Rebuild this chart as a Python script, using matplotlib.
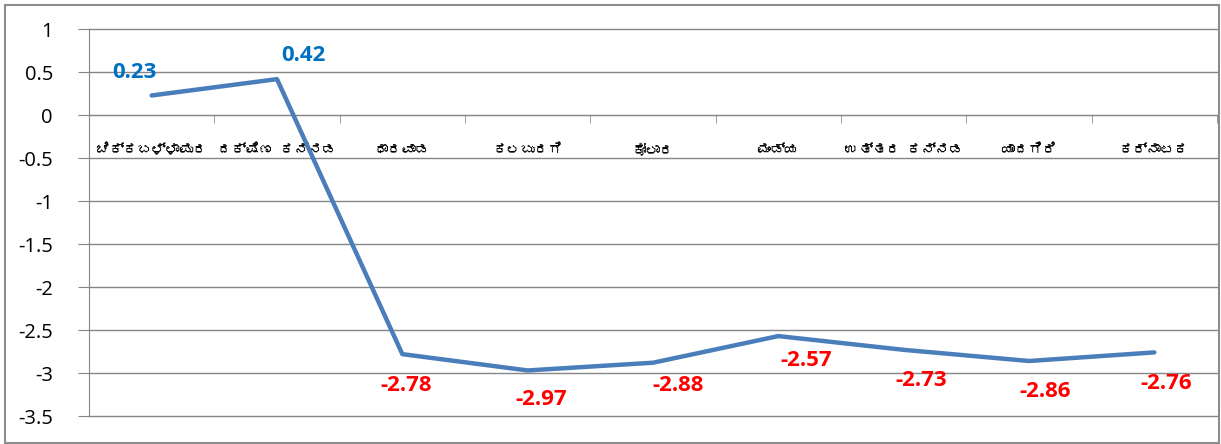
import matplotlib
matplotlib.use('Agg')
import matplotlib.pyplot as plt
import matplotlib.patheffects as pe
from matplotlib import font_manager
from matplotlib.ft2font import FT2Font
from matplotlib.patches import Rectangle

districts = ['ಚಿಕ್ಕಬಳ್ಳಾಪುರ', 'ದಕ್ಷಿಣ  ಕನ್ನಡ', 'ಧಾರವಾಡ', 'ಕಲಬುರಗಿ', 'ಕೋಲಾರ',
             'ಮಂಡ್ಯ', 'ಉತ್ತರ  ಕನ್ನಡ', 'ಯಾದಗಿರಿ', 'ಕರ್ನಾಟಕ']
values = [0.23, 0.42, -2.78, -2.97, -2.88, -2.57, -2.73, -2.86, -2.76]
y_ticks = [1, 0.5, 0, -0.5, -1, -1.5, -2, -2.5, -3, -3.5]

# label offsets in pixels (dx, dy) from each point
label_offsets = [(-17, 23), (26, 24), (4, -31), (14, -29), (25, -23),
                 (28, -24), (18, -31), (16, -30), (12, -31)]


def kannada_font():
    # look for any installed font that has Kannada glyphs
    for fe in font_manager.fontManager.ttflist:
        try:
            if 0x0C95 in FT2Font(fe.fname).get_charmap():
                return fe.name
        except Exception:
            pass
    return None


kn = kannada_font()
families = ['Open Sans', 'DejaVu Sans']
if kn:
    families.append(kn)
plt.rcParams['font.family'] = families

fig = plt.figure(figsize=(12.21, 4.44), dpi=100)
ax = fig.add_axes([89 / 1221, 1 - 416 / 444, (1217 - 89) / 1221, (416 - 29.3) / 444])

x = list(range(1, len(values) + 1))
ax.plot(x, values, color='#4A7EBB', lw=3.2, solid_capstyle='round', zorder=3)

for xi, v, (dx, dy) in zip(x, values, label_offsets):
    ax.annotate(f'{v:.2f}', (xi, v), xytext=(dx, dy), textcoords='offset pixels',
                ha='center', va='center', fontsize=16, fontweight='bold',
                color='#0070C0' if v > 0 else '#FF0000', zorder=4)

grid_c = '#868686'
ax.set_ylim(-3.5, 1)
ax.set_xlim(0.5, len(values) + 0.5)
ax.set_yticks(y_ticks)
ax.set_yticklabels([f'{t:g}' for t in y_ticks], fontsize=14.5)
ax.yaxis.grid(True, color=grid_c, lw=1.0)
for gl in ax.get_ygridlines():
    gl.set_clip_on(False)
ax.set_axisbelow(True)

ax.set_xticks(x)
ax.set_xticklabels(districts, fontsize=16, fontweight='bold')
for lab in ax.get_xticklabels():
    lab.set_path_effects([pe.withStroke(linewidth=1.3, foreground='black')])
ax.set_xticks([i + 0.5 for i in range(len(values) + 1)], minor=True)
ax.tick_params(axis='x', which='major', length=0, pad=20)
ax.tick_params(axis='x', which='minor', length=6, color=grid_c, direction='out')
ax.tick_params(axis='y', length=8, color=grid_c, pad=18)

ax.spines['bottom'].set_position(('data', 0))
ax.spines['bottom'].set_color(grid_c)
ax.spines['left'].set_color(grid_c)
ax.spines['top'].set_visible(False)
ax.spines['right'].set_visible(False)

fig.patches.append(Rectangle((5 / 1221, 1 / 444), 1214 / 1221, 438 / 444,
                             transform=fig.transFigure, fill=False,
                             edgecolor='#8C8C8C', lw=1.5))

fig.savefig('out.png', dpi=100, facecolor='white')
